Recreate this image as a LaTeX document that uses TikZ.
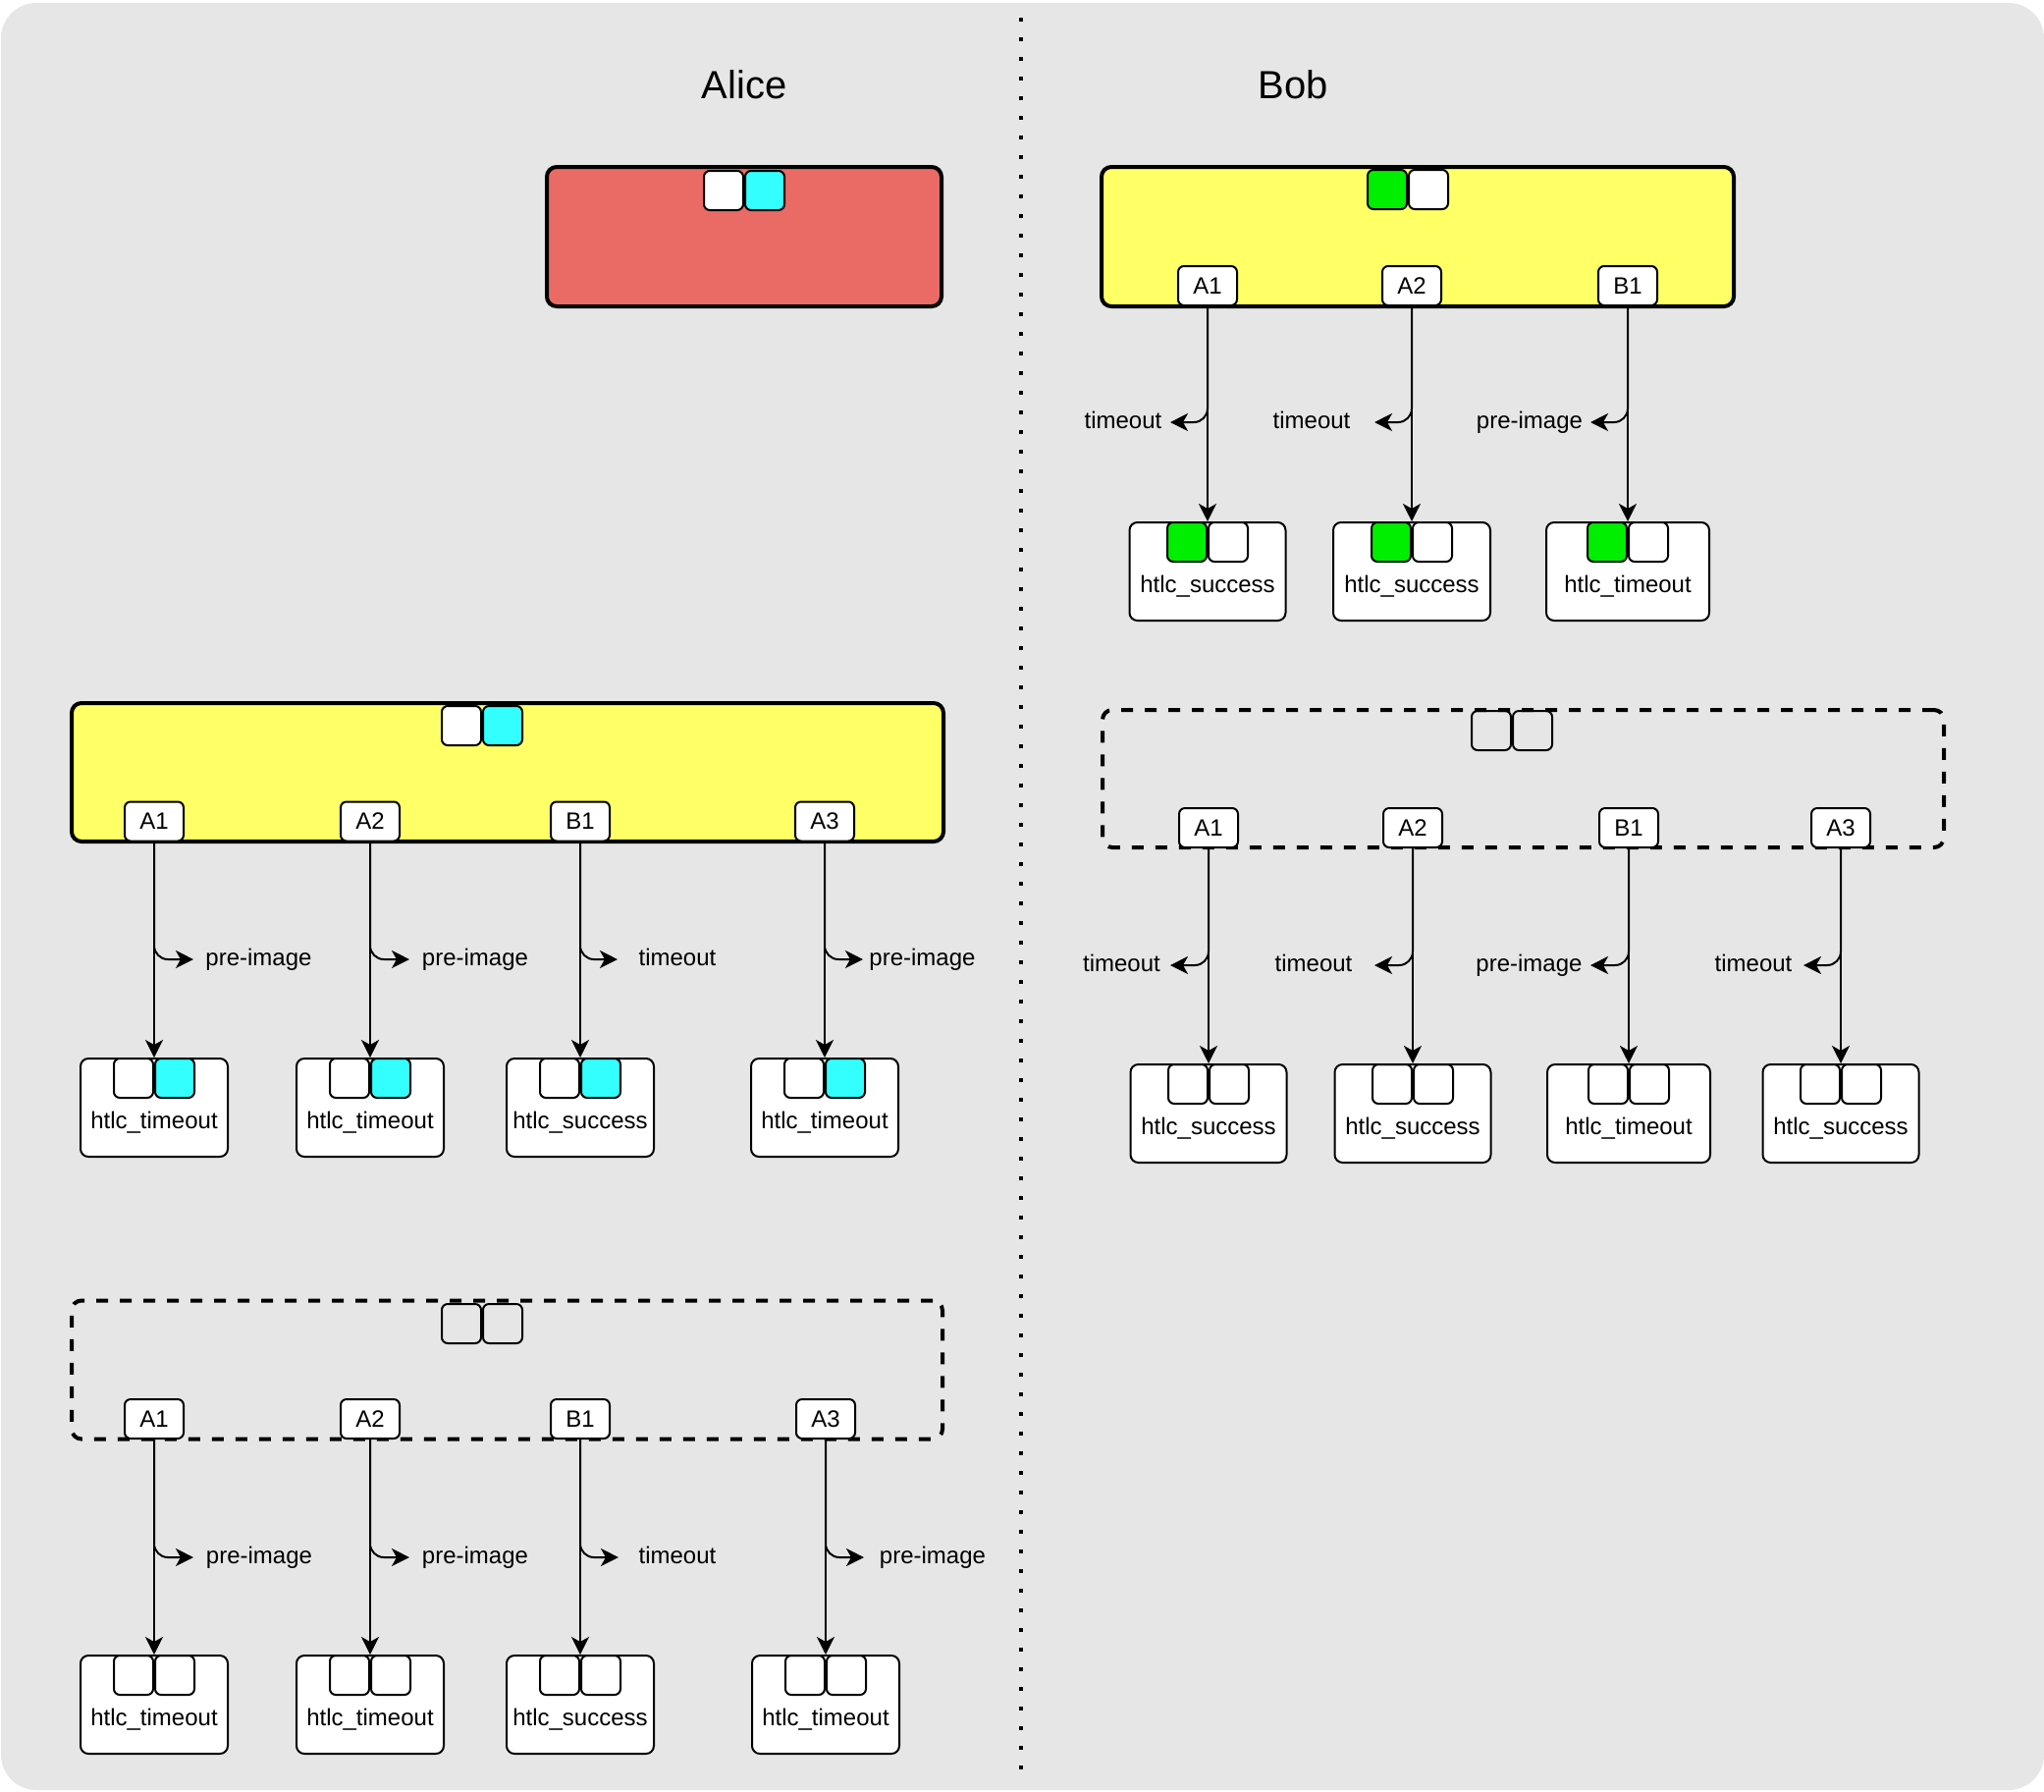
\documentclass[tikz,border=0pt]{standalone}
\usepackage{fontspec}
\setmainfont{Liberation Sans}
\usetikzlibrary{arrows.meta}

\definecolor{panel}{HTML}{E6E6E6}
\definecolor{revoked}{HTML}{EA6B66}
\definecolor{current}{HTML}{FFFF66}
\definecolor{keycyan}{HTML}{33FFFF}
\definecolor{keygreen}{HTML}{00EE00}

\tikzset{
  bigbox/.style={draw, line width=4pt, rounded corners=10pt, minimum width=#1, minimum height=141pt, inner sep=0pt},
  pendingbox/.style={bigbox=#1, dash pattern=on 12pt off 12pt},
  port/.style={draw, fill=white, line width=2pt, rounded corners=6pt, minimum width=60pt,
    minimum height=40pt, inner sep=0pt, font=\fontsize{24}{28}\selectfont},
  key/.style={draw, line width=2pt, rounded corners=6pt, minimum width=40pt, minimum height=40pt, inner sep=0pt},
  outbox/.style={draw, fill=white, line width=2pt, rounded corners=8pt, minimum height=100pt, inner sep=0pt},
  lbl/.style={font=\fontsize{24}{28}\selectfont, inner sep=0pt, anchor=base},
  title/.style={font=\fontsize{40}{48}\selectfont, inner sep=0pt, anchor=base},
  flow/.style={line width=2pt, -{Stealth[length=18pt,width=18pt,inset=5pt]}},
  branch/.style={flow, rounded corners=14pt},
}

% output box: name, x, top, width, left key fill, right key fill, text
\newcommand\htlcbox[7]{%
  \node[outbox, minimum width=#4pt, anchor=north] (#1) at (#2,#3) {};
  \node[key, fill=#5, anchor=north east] (#1-l) at (#1.north) {};
  \node[key, fill=#6, anchor=north west] (#1-r) at (#1.north) {};
  \node[lbl] (#1-t) at (#2,{#3+72.5}) {#7};
}
% key pair: name, x of the joint, top, left fill, right fill
\newcommand\keypair[5]{%
  \node[key, fill=#4, anchor=north east] (#1-l) at (#2,#3) {};
  \node[key, fill=#5, anchor=north west] (#1-r) at (#2,#3) {};
}
% output with its branch: port name, output name, tip x, tip y, label x, label text
\newcommand\spend[6]{%
  \coordinate (#1-tip) at (#3,#4);
  \draw[flow] (#1.south) -- (#2.north);
  \draw[branch] (#1.south) |- (#1-tip);
  \node[lbl] (#1-lab) at (#5,{#4+6}) {#6};
}

\begin{document}
\begin{tikzpicture}[x=1pt,y=-1pt]
  \useasboundingbox (0,0) rectangle (2082,1824);
  \fill[white] (0,0) rectangle (2082,1824);
  \fill[panel, rounded corners=36pt] (1,3) rectangle (2082,1823);

  % divider between the two parties
  \coordinate (divTop) at (1040,18);
  \coordinate (divBot) at (1040,1802);
  \draw[line width=4pt, dash pattern=on 4pt off 16pt] (divTop) -- (divBot);

  \node[title] (alice) at (758,100) {Alice};
  \node[title] (bob) at (1317,100) {Bob};

  % ---------------- Alice: revoked commitment
  \node[bigbox=402pt, fill=revoked, minimum height=142pt] (aRev) at (758,241) {};
  \keypair{aRevK}{758}{173}{white}{keycyan}

  % ---------------- Alice: current commitment
  \node[bigbox=888pt, fill=current] (aCur) at (517,786.5) {};
  \keypair{aCurK}{491}{718}{white}{keycyan}
  \node[port] (aCA1) at (157,836.5) {A1};
  \node[port] (aCA2) at (377,836.5) {A2};
  \node[port] (aCB1) at (591,836.5) {B1};
  \node[port] (aCA3) at (840,836.5) {A3};
  \htlcbox{aCO1}{157}{1077}{150}{white}{keycyan}{htlc\_timeout}
  \htlcbox{aCO2}{377}{1077}{150}{white}{keycyan}{htlc\_timeout}
  \htlcbox{aCO3}{591}{1077}{150}{white}{keycyan}{htlc\_success}
  \htlcbox{aCO4}{840}{1077}{150}{white}{keycyan}{htlc\_timeout}
  \spend{aCA1}{aCO1}{197}{977}{263.5}{pre-image}
  \spend{aCA2}{aCO2}{417}{977}{484}{pre-image}
  \spend{aCB1}{aCO3}{629}{977}{690}{timeout}
  \spend{aCA3}{aCO4}{879}{977}{939.5}{pre-image}

  % ---------------- Alice: pending commitment
  \node[pendingbox=887pt] (aNew) at (516.5,1395) {};
  \keypair{aNewK}{491}{1327}{none}{none}
  \node[port] (aNA1) at (157,1445) {A1};
  \node[port] (aNA2) at (377,1445) {A2};
  \node[port] (aNB1) at (591,1445) {B1};
  \node[port] (aNA3) at (841,1445) {A3};
  \htlcbox{aNO1}{157}{1685}{150}{none}{none}{htlc\_timeout}
  \htlcbox{aNO2}{377}{1685}{150}{none}{none}{htlc\_timeout}
  \htlcbox{aNO3}{591}{1685}{150}{none}{none}{htlc\_success}
  \htlcbox{aNO4}{841}{1685}{150}{none}{none}{htlc\_timeout}
  \spend{aNA1}{aNO1}{197}{1586}{264}{pre-image}
  \spend{aNA2}{aNO2}{417}{1586}{484}{pre-image}
  \spend{aNB1}{aNO3}{630}{1586}{690}{timeout}
  \spend{aNA3}{aNO4}{880}{1586}{950}{pre-image}

  % ---------------- Bob: current commitment
  \node[bigbox=644pt, fill=current, minimum height=142pt] (bCur) at (1444,241) {};
  \keypair{bCurK}{1434}{172}{keygreen}{white}
  \node[port] (bCA1) at (1230,291) {A1};
  \node[port] (bCA2) at (1438,291) {A2};
  \node[port] (bCB1) at (1658,291) {B1};
  \htlcbox{bCO1}{1230}{531}{159}{keygreen}{white}{htlc\_success}
  \htlcbox{bCO2}{1438}{531}{160}{keygreen}{white}{htlc\_success}
  \htlcbox{bCO3}{1658}{531}{166}{keygreen}{white}{htlc\_timeout}
  \spend{bCA1}{bCO1}{1192}{430}{1144}{timeout}
  \spend{bCA2}{bCO2}{1400}{430}{1336}{timeout}
  \spend{bCB1}{bCO3}{1620}{430}{1558}{pre-image}

  % ---------------- Bob: pending commitment
  \node[pendingbox=857pt, minimum height=140pt] (bNew) at (1551.5,793) {};
  \keypair{bNewK}{1540}{723}{none}{none}
  \node[port] (bNA1) at (1231,843) {A1};
  \node[port] (bNA2) at (1439,843) {A2};
  \node[port] (bNB1) at (1659,843) {B1};
  \node[port] (bNA3) at (1875,843) {A3};
  \htlcbox{bNO1}{1231}{1083}{159}{none}{none}{htlc\_success}
  \htlcbox{bNO2}{1439}{1083}{159}{none}{none}{htlc\_success}
  \htlcbox{bNO3}{1659}{1083}{166}{none}{none}{htlc\_timeout}
  \htlcbox{bNO4}{1875}{1083}{159}{none}{none}{htlc\_success}
  \spend{bNA1}{bNO1}{1192}{983}{1142.5}{timeout}
  \spend{bNA2}{bNO2}{1400}{983}{1338}{timeout}
  \spend{bNB1}{bNO3}{1620}{983}{1557.5}{pre-image}
  \spend{bNA3}{bNO4}{1837}{983}{1786}{timeout}
\end{tikzpicture}
\end{document}
